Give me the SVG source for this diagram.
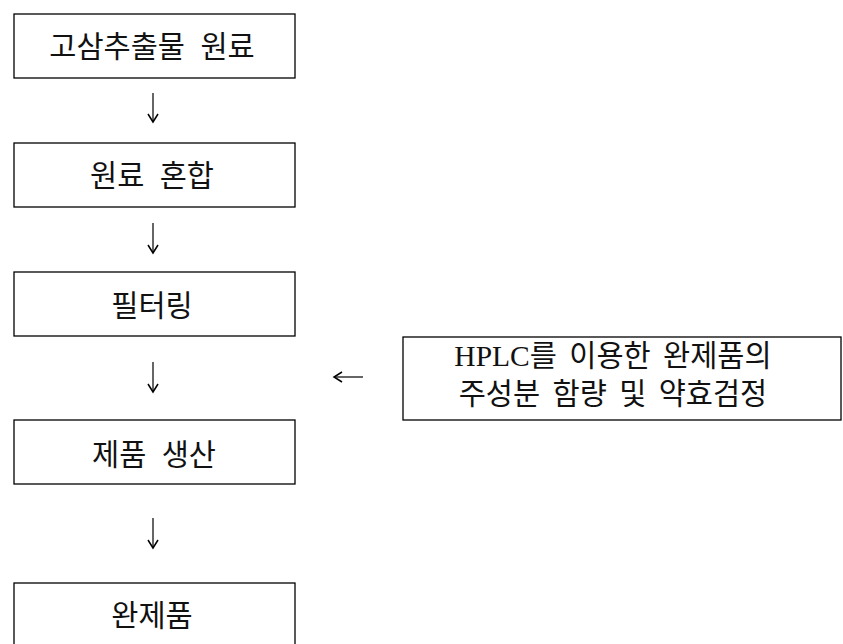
<svg xmlns="http://www.w3.org/2000/svg" width="843" height="644" viewBox="0 0 843 644">
<style>
.box{fill:#fff;stroke:#000;stroke-width:1.3}
.t{font-family:"Liberation Serif","Noto Sans CJK KR",serif;font-size:29.5px;fill:#111;text-anchor:middle;word-spacing:8px}
.r{word-spacing:5px}
.c{fill:none;stroke:#000;stroke-width:1.2}
</style>
<defs>
<marker id="ah" viewBox="0 0 12 12" refX="10" refY="6" markerWidth="12" markerHeight="12" markerUnits="userSpaceOnUse" orient="auto">
<path d="M2,1 L10,6 L2,11" fill="none" stroke="#000" stroke-width="1.5"/>
</marker>
</defs>
<rect width="843" height="644" fill="#fff"/>
<g id="connectors">
<line class="c" x1="153" y1="93" x2="153" y2="122" marker-end="url(#ah)"/>
<line class="c" x1="153" y1="223" x2="153" y2="253" marker-end="url(#ah)"/>
<line class="c" x1="153" y1="362" x2="153" y2="392" marker-end="url(#ah)"/>
<line class="c" x1="153" y1="518" x2="153" y2="548" marker-end="url(#ah)"/>
<line class="c" x1="363" y1="377" x2="334" y2="377" marker-end="url(#ah)"/>
</g>
<g id="n1">
<rect class="box" x="14" y="14" width="281" height="64"/>
<text class="t" x="152" y="57">고삼추출물 원료</text>
</g>
<g id="n2">
<rect class="box" x="14" y="143" width="281" height="64"/>
<text class="t" x="152" y="186">원료 혼합</text>
</g>
<g id="n3">
<rect class="box" x="14" y="272" width="281" height="64"/>
<text class="t" x="152" y="316">필터링</text>
</g>
<g id="n4">
<rect class="box" x="14" y="420" width="281" height="64"/>
<text class="t" x="154" y="465">제품 생산</text>
</g>
<g id="n5">
<rect class="box" x="14" y="583" width="281" height="70"/>
<text class="t" x="152" y="626">완제품</text>
</g>
<g id="n6">
<rect class="box" x="403" y="337" width="438" height="83"/>
<text class="t r" x="613" y="366">HPLC를 이용한 완제품의</text>
<text class="t r" x="613" y="404">주성분 함량 및 약효검정</text>
</g>
</svg>
